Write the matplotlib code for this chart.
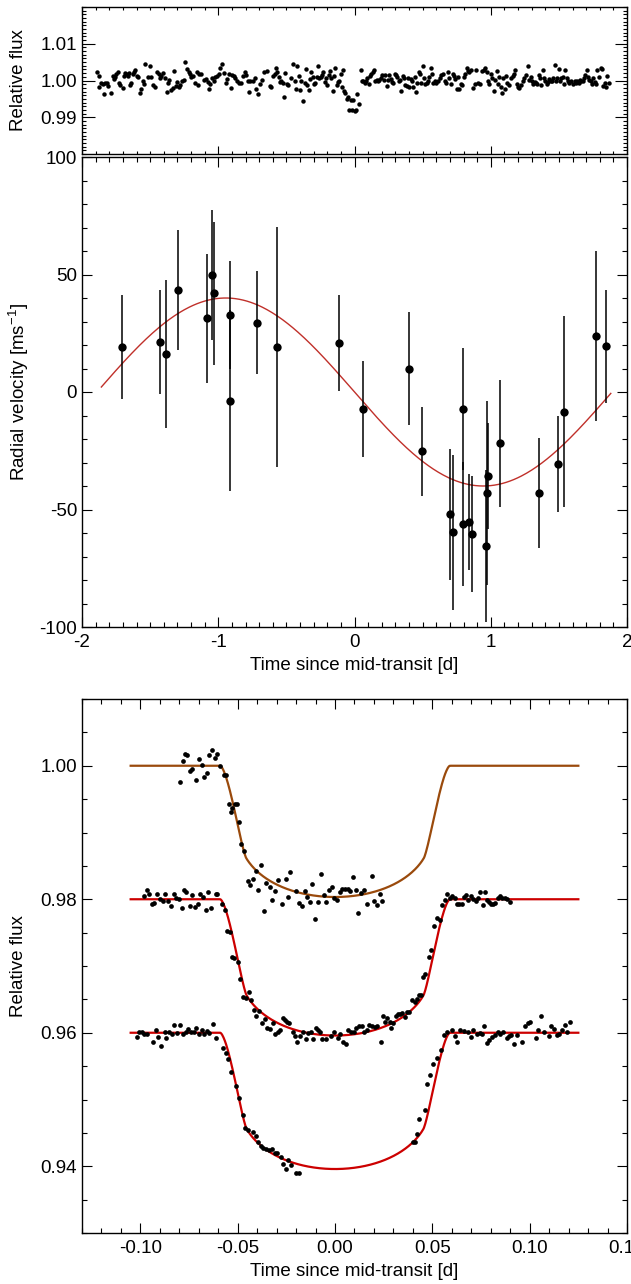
import matplotlib.pyplot as plt
import numpy as np
from matplotlib.ticker import MultipleLocator, FormatStrFormatter

plt.rcParams['font.family'] = ['Liberation Sans', 'DejaVu Sans']
plt.rcParams['font.size'] = 13.5
plt.rcParams['axes.unicode_minus'] = False

# photometric monitoring over the RV baseline
phot_time = [
    -1.890, -1.873, -1.878, -1.861, -1.848, -1.841, -1.829, -1.817, -1.809, -1.785,
    -1.775, -1.768, -1.755, -1.748, -1.738, -1.731, -1.724, -1.699, -1.694, -1.687,
    -1.675, -1.665, -1.657, -1.645, -1.638, -1.628, -1.621, -1.613, -1.596, -1.589,
    -1.572, -1.565, -1.552, -1.543, -1.535, -1.516, -1.501, -1.491, -1.481, -1.467,
    -1.452, -1.437, -1.425, -1.418, -1.406, -1.393, -1.376, -1.369, -1.359, -1.344,
    -1.335, -1.325, -1.308, -1.303, -1.291, -1.278, -1.266, -1.254, -1.242, -1.227,
    -1.217, -1.207, -1.198, -1.185, -1.173, -1.156, -1.149, -1.139, -1.124, -1.107,
    -1.090, -1.075, -1.065, -1.058, -1.046, -1.034, -1.021, -1.009, -0.997, -0.985,
    -0.972, -0.960, -0.943, -0.933, -0.924, -0.909, -0.899, -0.887, -0.875, -0.862,
    -0.850, -0.835, -0.818, -0.806, -0.794, -0.782, -0.772, -0.765, -0.747, -0.733,
    -0.723, -0.711, -0.696, -0.679, -0.667,
    -0.640, -0.623, -0.610, -0.601, -0.586, -0.574, -0.566, -0.557, -0.547, -0.537,
    -0.527, -0.517, -0.508, -0.498, -0.488, -0.469, -0.454, -0.439, -0.429, -0.420,
    -0.410, -0.400, -0.390, -0.380, -0.366, -0.354, -0.346, -0.336, -0.327, -0.317,
    -0.307, -0.297, -0.287, -0.278, -0.268, -0.258, -0.248, -0.239, -0.229, -0.219,
    -0.209, -0.199, -0.190, -0.180, -0.170, -0.160, -0.150, -0.141, -0.131, -0.121,
    -0.111, -0.102, -0.092, -0.082, -0.077, -0.067, -0.058, -0.048, -0.038, -0.028,
    -0.018, -0.009, 0.001, 0.011, 0.021, 0.031,
    0.045, 0.055, 0.065, 0.075, 0.084, 0.094, 0.104, 0.114, 0.124, 0.133,
    0.143, 0.153, 0.163, 0.172, 0.182, 0.192, 0.202, 0.217, 0.226, 0.236,
    0.246, 0.256, 0.265, 0.275, 0.285, 0.295, 0.305, 0.314, 0.324, 0.334,
    0.344, 0.353, 0.363, 0.373, 0.383, 0.393, 0.402, 0.412, 0.422, 0.432,
    0.442, 0.451, 0.461, 0.471, 0.481, 0.490, 0.500, 0.510, 0.520, 0.530,
    0.539, 0.549, 0.559, 0.569, 0.578, 0.588, 0.601, 0.613, 0.625,
    0.635, 0.652, 0.662, 0.671, 0.686, 0.696, 0.711, 0.720, 0.730, 0.740,
    0.750, 0.759, 0.769, 0.779, 0.789, 0.804, 0.813, 0.823, 0.833, 0.843,
    0.857, 0.872, 0.882, 0.892, 0.906, 0.921, 0.936, 0.950, 0.960, 0.970,
    0.980, 0.989, 0.999, 1.009, 1.024, 1.033, 1.043, 1.053, 1.063, 1.073,
    1.082, 1.092, 1.102, 1.112, 1.122, 1.136, 1.151, 1.161, 1.170, 1.180,
    1.190, 1.200, 1.210, 1.224, 1.234, 1.244, 1.259, 1.273, 1.283, 1.293,
    1.303, 1.312, 1.322, 1.332, 1.342, 1.352, 1.361, 1.371, 1.381, 1.391,
    1.400, 1.410, 1.420, 1.430, 1.440, 1.449, 1.459, 1.469, 1.479, 1.489,
    1.498, 1.508, 1.518, 1.528, 1.537, 1.547, 1.557, 1.567, 1.577, 1.586,
    1.601, 1.616, 1.626, 1.635, 1.645, 1.655, 1.665, 1.674, 1.684, 1.694,
    1.704, 1.714, 1.723, 1.733, 1.743, 1.753, 1.763, 1.772, 1.782, 1.797,
    1.807, 1.816, 1.826, 1.836, 1.846, 1.856, 1.865]
phot_flux = [
    1.0022, 1.0013, 0.9982, 0.9994, 0.9991, 0.9963, 0.9994, 0.9993, 0.9985, 0.9965,
    1.0013, 1.0004, 1.0009, 1.0018, 1.0022, 0.9993, 0.9987, 0.9980, 1.0011, 1.0020,
    1.0018, 1.0013, 1.0020, 0.9987, 0.9993, 1.0018, 1.0024, 1.0029, 1.0011, 1.0009,
    0.9967, 0.9976, 1.0000, 0.9991, 1.0046, 1.0009, 1.0040, 1.0009, 0.9987, 0.9983,
    1.0024, 1.0017, 1.0006, 1.0013, 1.0020, 1.0006, 0.9969, 0.9993, 1.0002, 0.9974,
    0.9980, 1.0026, 0.9985, 0.9996, 0.9983, 0.9987, 1.0000, 1.0002, 1.0051, 1.0031,
    1.0022, 1.0018, 1.0009, 1.0013, 0.9993, 1.0022, 0.9987, 1.0018, 1.0017, 1.0002,
    1.0004, 0.9996, 0.9976, 0.9991, 1.0006, 1.0000, 1.0009, 1.0011, 1.0018, 1.0035,
    1.0044, 1.0020, 0.9994, 1.0004, 1.0018, 0.9980, 1.0015, 1.0013, 1.0006, 1.0000,
    0.9994, 0.9994, 1.0013, 1.0022, 1.0015, 1.0000, 0.9969, 0.9998, 0.9998, 1.0006,
    0.9976, 0.9963, 0.9991, 1.0002, 1.0024,
    1.0026, 0.9985, 0.9982, 1.0013, 1.0018, 1.0035, 1.0022, 1.0009, 0.9996, 1.0000,
    0.9994, 0.9954, 1.0020, 0.9991, 0.9989, 1.0006, 1.0044, 1.0000, 0.9976, 1.0039,
    1.0011, 0.9974, 1.0000, 0.9945, 0.9994, 1.0031, 0.9989, 0.9974, 1.0004, 1.0022,
    1.0009, 0.9991, 0.9994, 1.0009, 1.0040, 1.0007, 1.0009, 1.0015, 1.0022, 0.9996,
    1.0006, 0.9989, 1.0015, 1.0026, 1.0006, 0.9972, 1.0013, 1.0035, 0.9989, 0.9996,
    1.0000, 1.0017, 0.9983, 1.0028, 0.9972, 0.9965, 0.9949, 0.9954, 0.9921, 0.9947,
    0.9921, 0.9947, 0.9917, 0.9921, 0.9963, 0.9936,
    1.0029, 1.0000, 1.0000, 0.9994, 1.0000, 1.0006, 0.9991, 1.0011, 1.0017, 1.0022,
    1.0028, 1.0000, 1.0002, 0.9998, 1.0002, 1.0006, 1.0015, 1.0002, 1.0015, 0.9985,
    1.0002, 1.0015, 1.0004, 0.9996, 0.9994, 1.0018, 1.0015, 1.0009, 1.0000, 1.0002,
    0.9971, 1.0013, 1.0006, 0.9989, 0.9985, 1.0007, 0.9982, 1.0004, 1.0000, 0.9983,
    1.0009, 0.9969, 0.9993, 1.0024, 1.0018, 0.9994, 1.0039, 1.0006, 0.9991, 0.9994,
    1.0000, 1.0009, 1.0035, 1.0018, 0.9994, 0.9998, 0.9993, 0.9998, 1.0007,
    1.0015, 1.0017, 0.9998, 0.9994, 1.0024, 1.0006, 0.9991, 1.0018, 1.0013, 1.0004,
    0.9976, 1.0009, 0.9976, 0.9991, 0.9987, 1.0009, 1.0018, 1.0035, 1.0026, 1.0022,
    1.0028, 0.9980, 0.9991, 1.0029, 0.9994, 0.9991, 1.0026, 1.0029, 1.0033, 1.0022,
    1.0000, 0.9991, 1.0017, 1.0006, 0.9972, 1.0002, 1.0026, 0.9991, 1.0009, 0.9982,
    0.9967, 1.0006, 0.9976, 1.0013, 0.9993, 0.9987, 1.0006, 1.0013, 1.0017, 1.0029,
    0.9991, 0.9982, 0.9980, 0.9987, 0.9998, 1.0006, 1.0015, 1.0040, 1.0002, 1.0009,
    0.9998, 0.9991, 0.9996, 0.9994, 0.9991, 1.0015, 1.0007, 0.9987, 1.0028, 1.0007,
    0.9998, 0.9991, 0.9996, 1.0004, 0.9998, 1.0000, 1.0006, 1.0042, 0.9998, 1.0006,
    1.0031, 0.9998, 1.0007, 1.0009, 0.9991, 1.0029, 1.0006, 1.0000, 0.9994, 1.0000,
    0.9991, 1.0000, 0.9994, 1.0000, 0.9994, 1.0002, 0.9998, 0.9998, 1.0007, 1.0015,
    1.0029, 1.0009, 1.0002, 0.9998, 0.9991, 1.0006, 0.9996, 0.9991, 1.0028, 1.0009,
    1.0033, 1.0031, 0.9985, 0.9994, 0.9982, 1.0013, 0.9994]

# radial velocities [m/s] with 1-sigma errors
rv_time = [-1.704, -1.431, -1.384, -1.295, -1.081, -1.043, -1.034, -0.913, -0.913, -0.714,
           -0.569, -0.113, 0.059, 0.403, 0.495, 0.701, 0.725, 0.794, 0.799, 0.838,
           0.860, 0.965, 0.970, 0.978, 1.066, 1.357, 1.496, 1.538, 1.772, 1.846]
rv_vel = [19.2, 21.2, 16.1, 43.4, 31.3, 49.8, 42.0, 32.7, -3.8, 29.5,
          19.2, 20.9, -7.3, 10.0, -25.2, -52.1, -59.6, -7.3, -56.2, -55.3,
          -60.4, -65.5, -43.0, -35.6, -21.8, -42.9, -30.6, -8.3, 23.8, 19.5]
rv_err = [22.0, 22.0, 31.5, 25.5, 27.5, 27.5, 30.5, 23.0, 38.5, 22.0,
          51.0, 20.5, 20.5, 24.0, 19.0, 28.0, 33.0, 26.0, 26.5, 20.5,
          24.5, 32.5, 39.0, 22.5, 27.0, 23.5, 20.5, 40.5, 36.0, 24.0]

# circular orbit fit
rv_K = 40.0
rv_period = 3.78
rv_t0 = 0.0

# transit light curves (offsets of 0, -0.02, -0.04 applied)
lc1_time = [-0.0798, -0.0783, -0.0771, -0.0759, -0.0746, -0.0734, -0.0714, -0.0701, -0.0684, -0.0672,
            -0.0659, -0.0647, -0.0630, -0.0618, -0.0606, -0.0591, -0.0568, -0.0558, -0.0545, -0.0533,
            -0.0527, -0.0515, -0.0504, -0.0494, -0.0481, -0.0469, -0.0448, -0.0436, -0.0419, -0.0407,
            -0.0394, -0.0378, -0.0363, -0.0353, -0.0336, -0.0323, -0.0307, -0.0295, -0.0270, -0.0254,
            -0.0241, -0.0229, -0.0200, -0.0183, -0.0171, -0.0156, -0.0142, -0.0129, -0.0117, -0.0101,
            -0.0088, -0.0074, -0.0059, -0.0047, -0.0032, -0.0018, -0.0005, 0.0009, 0.0024, 0.0036,
            0.0053, 0.0065, 0.0077, 0.0094, 0.0106, 0.0119, 0.0135, 0.0148, 0.0164, 0.0189,
            0.0202, 0.0216, 0.0231, 0.0243]
lc1_flux = [0.9975, 1.0007, 1.0018, 1.0016, 0.9992, 0.9995, 0.9979, 1.0010, 1.0001, 0.9983,
            0.9989, 1.0016, 1.0023, 1.0012, 1.0018, 0.9999, 0.9986, 0.9986, 0.9943, 0.9931,
            0.9937, 0.9943, 0.9943, 0.9915, 0.9883, 0.9873, 0.9828, 0.9822, 0.9831, 0.9843,
            0.9814, 0.9851, 0.9782, 0.9825, 0.9818, 0.9799, 0.9813, 0.9829, 0.9793, 0.9831,
            0.9803, 0.9841, 0.9813, 0.9794, 0.9790, 0.9812, 0.9803, 0.9796, 0.9823, 0.9770,
            0.9796, 0.9838, 0.9807, 0.9796, 0.9814, 0.9818, 0.9802, 0.9799, 0.9811, 0.9815,
            0.9816, 0.9815, 0.9813, 0.9834, 0.9814, 0.9779, 0.9809, 0.9814, 0.9793, 0.9835,
            0.9797, 0.9791, 0.9808, 0.9797]

lc2_time = [-0.0982, -0.0968, -0.0955, -0.0941, -0.0931, -0.0914, -0.0900, -0.0886, -0.0873, -0.0856,
            -0.0842, -0.0829, -0.0815, -0.0801, -0.0788, -0.0774, -0.0764, -0.0747, -0.0733, -0.0720,
            -0.0706, -0.0692, -0.0679, -0.0665, -0.0651, -0.0638, -0.0614, -0.0604, -0.0580, -0.0566,
            -0.0556, -0.0542, -0.0529, -0.0518, -0.0501, -0.0488, -0.0471, -0.0457, -0.0443, -0.0430,
            -0.0416, -0.0406, -0.0389, -0.0375, -0.0358, -0.0348, -0.0334, -0.0321, -0.0307, -0.0293,
            -0.0283, -0.0269, -0.0259, -0.0249, -0.0235, -0.0218, -0.0208, -0.0194, -0.0181, -0.0167,
            -0.0150, -0.0140, -0.0126, -0.0113, -0.0099, -0.0089, -0.0075, -0.0065, -0.0048,
            -0.0020, -0.0003, 0.0014, 0.0027, 0.0041, 0.0055, 0.0068, 0.0082, 0.0096, 0.0109,
            0.0123, 0.0137, 0.0150, 0.0164, 0.0177, 0.0191, 0.0205, 0.0218, 0.0235, 0.0246,
            0.0259, 0.0269, 0.0280, 0.0290, 0.0300, 0.0314, 0.0324, 0.0334, 0.0344, 0.0358,
            0.0368, 0.0382, 0.0396, 0.0409, 0.0419, 0.0430, 0.0443, 0.0454, 0.0464, 0.0481,
            0.0495, 0.0508, 0.0522, 0.0539, 0.0552, 0.0563, 0.0576, 0.0590, 0.0600, 0.0614,
            0.0628, 0.0638, 0.0651, 0.0665, 0.0675, 0.0685, 0.0699, 0.0709, 0.0723, 0.0737,
            0.0747, 0.0761, 0.0771, 0.0781, 0.0791, 0.0802, 0.0812, 0.0822, 0.0835, 0.0849,
            0.0859, 0.0873, 0.0883, 0.0897]
lc2_flux = [0.98052, 0.98142, 0.98082, 0.97922, 0.97943, 0.98082, 0.98003, 0.97973, 0.98082, 0.97973,
            0.97893, 0.98072, 0.98022, 0.98003, 0.97873, 0.98142, 0.98102, 0.97903, 0.98063, 0.97883,
            0.97933, 0.98072, 0.98033, 0.97843, 0.98102, 0.97862, 0.98072, 0.98082, 0.97922, 0.97843,
            0.97523, 0.97513, 0.97134, 0.97124, 0.97054, 0.96804, 0.96535, 0.96515, 0.96614, 0.96484,
            0.96345, 0.96255, 0.96325, 0.96145, 0.96205, 0.96065, 0.96055, 0.96145, 0.95985, 0.96015,
            0.96035, 0.96225, 0.96195, 0.96165, 0.96145, 0.96005, 0.95945, 0.95855, 0.95945, 0.96005,
            0.95905, 0.95995, 0.96015, 0.95905, 0.96075, 0.96045, 0.96005, 0.95905, 0.95905,
            0.95945, 0.96005, 0.95915, 0.95985, 0.95865, 0.95835, 0.96035, 0.96005, 0.96015, 0.96075,
            0.96095, 0.96095, 0.96015, 0.96035, 0.96115, 0.96095, 0.96085, 0.96095, 0.95865, 0.96255,
            0.96155, 0.96215, 0.96155, 0.96065, 0.96145, 0.96255, 0.96275, 0.96285, 0.96295, 0.96235,
            0.96305, 0.96305, 0.96484, 0.96454, 0.96505, 0.96565, 0.96565, 0.96834, 0.96874, 0.97134,
            0.97234, 0.97594, 0.97723, 0.97683, 0.97913, 0.97983, 0.98082, 0.98022, 0.98042, 0.98012,
            0.97933, 0.97923, 0.97923, 0.98033, 0.98063, 0.97983, 0.98052, 0.98003, 0.97973, 0.98012,
            0.98112, 0.97913, 0.98112, 0.97983, 0.97953, 0.97933, 0.97923, 0.97943, 0.98022, 0.98042,
            0.98022, 0.98012, 0.98003, 0.97963]

lc3_time = [-0.1020, -0.1006, -0.0992, -0.0979, -0.0965, -0.0934, -0.0921, -0.0907, -0.0893, -0.0876,
            -0.0866, -0.0852, -0.0839, -0.0825, -0.0812, -0.0798, -0.0781, -0.0767, -0.0753, -0.0740,
            -0.0723, -0.0713, -0.0699, -0.0685, -0.0672, -0.0658, -0.0645, -0.0628, -0.0614, -0.0576,
            -0.0559, -0.0549, -0.0532, -0.0508, -0.0491, -0.0474, -0.0464, -0.0447, -0.0419, -0.0406,
            -0.0395, -0.0382, -0.0368, -0.0354, -0.0338, -0.0324, -0.0310, -0.0297, -0.0280, -0.0266,
            -0.0252, -0.0242, -0.0228, -0.0201, -0.0184,
            0.0399, 0.0409, 0.0423, 0.0433, 0.0460, 0.0474, 0.0488, 0.0505, 0.0525, 0.0546,
            0.0559, 0.0573, 0.0600, 0.0614, 0.0628, 0.0641, 0.0662, 0.0682, 0.0696, 0.0709,
            0.0730, 0.0743, 0.0753, 0.0767, 0.0781, 0.0791, 0.0808, 0.0822, 0.0835, 0.0849,
            0.0863, 0.0883, 0.0893, 0.0904, 0.0921, 0.0934, 0.0962, 0.0975, 0.0989, 0.1003,
            0.1030, 0.1043, 0.1057, 0.1074, 0.1098, 0.1112, 0.1125, 0.1139, 0.1153, 0.1166,
            0.1180, 0.1194, 0.1207]
lc3_flux = [0.95935, 0.96005, 0.96015, 0.95975, 0.95985, 0.95865, 0.96035, 0.95935, 0.95805, 0.96005,
            0.95915, 0.96005, 0.95985, 0.96115, 0.95995, 0.96115, 0.95985, 0.96015, 0.96055, 0.96005,
            0.96015, 0.96075, 0.95985, 0.96035, 0.95975, 0.96025, 0.95995, 0.96125, 0.95925, 0.95775,
            0.95695, 0.95605, 0.95415, 0.95195, 0.95016, 0.94767, 0.94567, 0.94547, 0.94517, 0.94447,
            0.94367, 0.94297, 0.94267, 0.94257, 0.94247, 0.94257, 0.94197, 0.94197, 0.94137, 0.94027,
            0.93958, 0.94097, 0.94017, 0.93898, 0.93898,
            0.94357, 0.94357, 0.94487, 0.94707, 0.94846, 0.95226, 0.95366, 0.95526, 0.95626, 0.95746,
            0.95965, 0.96005, 0.96035, 0.95945, 0.95855, 0.96045, 0.96025, 0.96015, 0.95935, 0.96035,
            0.95985, 0.95995, 0.95985, 0.96095, 0.95845, 0.95885, 0.95935, 0.95965, 0.96015, 0.95985,
            0.96015, 0.95925, 0.95945, 0.95965, 0.95825, 0.95965, 0.95855, 0.96095, 0.96145, 0.96155,
            0.95925, 0.96035, 0.96255, 0.96005, 0.95945, 0.96095, 0.96055, 0.95965, 0.95985, 0.96035,
            0.96115, 0.96005, 0.96155]

# transit fit parameters
t14 = 0.118
u1, u2 = 0.5, 0.1
rp_brown = 0.127
rp_red = 0.1294
offsets = [0.0, -0.02, -0.04]


def transit_model(t, p, dur, ua, ub, n=121):
    # flux blocked by an opaque disk crossing a limb-darkened star (b = 0)
    g = np.linspace(-p, p, n)
    gx, gy = np.meshgrid(g, g)
    inside = gx ** 2 + gy ** 2 <= p ** 2
    gx, gy = gx[inside], gy[inside]
    da = (g[1] - g[0]) ** 2
    z = np.abs(t) * (1 + p) / (dur / 2)
    r2 = (gx[None, :] + z[:, None]) ** 2 + gy[None, :] ** 2
    mu = np.sqrt(np.clip(1 - r2, 0, None))
    inten = np.where(r2 < 1, 1 - ua * (1 - mu) - ub * (1 - mu) ** 2, 0.0)
    norm = np.pi * (1 - ua / 3 - ub / 6)
    return 1 - inten.sum(axis=1) * da / norm


def style_axis(ax, maj_x, maj_y, min_x, min_y):
    ax.tick_params(which='both', direction='in', top=True, right=True, width=0.8)
    ax.tick_params(axis='x', which='major', length=maj_x)
    ax.tick_params(axis='x', which='minor', length=min_x)
    ax.tick_params(axis='y', which='major', length=maj_y)
    ax.tick_params(axis='y', which='minor', length=min_y)
    for s in ax.spines.values():
        s.set_linewidth(1.0)
    ax.yaxis.label.set_va('center')


fig = plt.figure(figsize=(6.31, 12.84), dpi=100)
W = 631.0
H = 1284.0

def rect(x0, y0, x1, y1):
    return [x0 / W, 1 - y1 / H, (x1 - x0) / W, (y1 - y0) / H]

# top: photometry
ax1 = fig.add_axes(rect(82, 7, 627, 154))
ax1.plot(phot_time, phot_flux, 'o', color='black', ms=3.2, mew=0)
ax1.set_xlim(-2, 2)
ax1.set_ylim(0.98, 1.02)
ax1.xaxis.set_major_locator(MultipleLocator(1))
ax1.xaxis.set_minor_locator(MultipleLocator(0.1))
ax1.yaxis.set_major_locator(MultipleLocator(0.01))
ax1.yaxis.set_minor_locator(MultipleLocator(0.001))
ax1.yaxis.set_major_formatter(FormatStrFormatter('%.2f'))
ax1.set_xticklabels([])
ax1.set_yticks([0.99, 1.00, 1.01])
ax1.set_ylabel('Relative flux')
ax1.yaxis.set_label_coords(-0.117, 0.5)
style_axis(ax1, 5.5, 9, 2.5, 3)

# middle: radial velocities
ax2 = fig.add_axes(rect(82, 157, 627, 627))
tt = np.linspace(-1.858, 1.881, 400)
ax2.plot(tt, -rv_K * np.sin(2 * np.pi * (tt - rv_t0) / rv_period), color='#c0302a', lw=1.0)
ax2.errorbar(rv_time, rv_vel, yerr=rv_err, fmt='o', color='black', ms=6, mew=0,
             elinewidth=1.1, capsize=0)
ax2.set_xlim(-2, 2)
ax2.set_ylim(-100, 100)
ax2.xaxis.set_major_locator(MultipleLocator(1))
ax2.xaxis.set_minor_locator(MultipleLocator(0.1))
ax2.yaxis.set_major_locator(MultipleLocator(50))
ax2.yaxis.set_minor_locator(MultipleLocator(10))
ax2.set_ylabel('Radial velocity [ms$^{\\mathregular{-1}}$]')
ax2.yaxis.set_label_coords(-0.117, 0.5)
ax2.set_xlabel('Time since mid-transit [d]')
ax2.xaxis.set_label_coords(0.5, -0.081)
ax2.xaxis.label.set_va('center')
style_axis(ax2, 7, 7, 3.5, 3.5)
ax2.tick_params(axis='x', pad=5)

# bottom: transit light curves
ax3 = fig.add_axes(rect(82, 699, 627, 1233))
tm = np.linspace(-0.105, 0.125, 700)
ax3.plot(tm, transit_model(tm, rp_brown, t14, u1, u2) + offsets[0], color='#9a4a0c', lw=1.6)
ax3.plot(tm, transit_model(tm, rp_red, t14, u1, u2) + offsets[1], color='#cc0000', lw=1.6)
ax3.plot(tm, transit_model(tm, rp_red, t14, u1, u2) + offsets[2], color='#cc0000', lw=1.6)
for tx, fx in [(lc1_time, lc1_flux), (lc2_time, lc2_flux), (lc3_time, lc3_flux)]:
    ax3.plot(tx, fx, 'o', color='black', ms=3.4, mew=0)
ax3.set_xlim(-0.13, 0.15)
ax3.set_ylim(0.93, 1.01)
ax3.xaxis.set_major_locator(MultipleLocator(0.05))
ax3.xaxis.set_minor_locator(MultipleLocator(0.01))
ax3.yaxis.set_major_locator(MultipleLocator(0.02))
ax3.yaxis.set_minor_locator(MultipleLocator(0.005))
ax3.xaxis.set_major_formatter(FormatStrFormatter('%.2f'))
ax3.yaxis.set_major_formatter(FormatStrFormatter('%.2f'))
ax3.set_yticks([0.94, 0.96, 0.98, 1.00])
ax3.set_ylabel('Relative flux')
ax3.yaxis.set_label_coords(-0.117, 0.5)
ax3.set_xlabel('Time since mid-transit [d]')
ax3.xaxis.set_label_coords(0.5, -0.0712)
ax3.xaxis.label.set_va('center')
style_axis(ax3, 7, 7, 3.5, 3.5)
ax3.tick_params(axis='x', pad=5)

fig.savefig('out.png', dpi=100)
